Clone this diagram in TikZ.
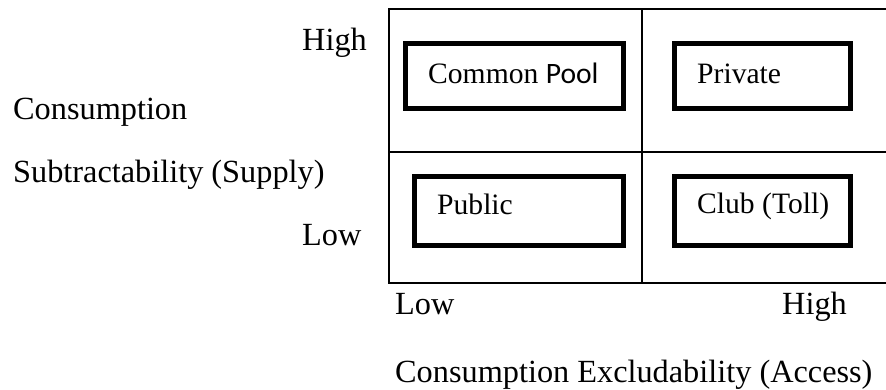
\documentclass[tikz,border=0pt]{standalone}
\usepackage{fontspec}
\setmainfont{Liberation Serif}
\newfontfamily\calibrifont{Carlito}
\begin{document}
\begin{tikzpicture}[x=1pt,y=-1pt,
  axislbl/.style={font=\fontsize{32.3}{37}\selectfont, inner sep=0pt, anchor=base west},
  boxlbl/.style={font=\fontsize{29.6}{34}\selectfont, inner sep=0pt, anchor=base west},
  goodbox/.style={draw, line width=5pt, inner sep=0pt},
  gridline/.style={line width=1.2pt}]
\useasboundingbox (0,0) rectangle (886,389);

% 2x2 grid
\coordinate (gTL) at (389,9);
\coordinate (gBL) at (389,283);
\coordinate (gTR) at (886,9);
\coordinate (gBR) at (886,283);
\coordinate (gMT) at (642,9);
\coordinate (gMB) at (642,283);
\coordinate (gML) at (389,152);
\coordinate (gMR) at (886,152);
\draw[gridline] (gTR) -- (gTL) -- (gBL) -- (gBR);
\draw[gridline] (gMT) -- (gMB);
\draw[gridline] (gML) -- (gMR);

% goods boxes
\node[goodbox, minimum width=218pt, minimum height=65pt] (commonpool) at (514.5,76) {};
\node[goodbox, minimum width=176pt, minimum height=65pt] (private) at (762.5,76) {};
\node[goodbox, minimum width=209pt, minimum height=69pt] (public) at (519,211) {};
\node[goodbox, minimum width=176pt, minimum height=69pt] (club) at (762.5,211) {};

\node[boxlbl] (commonpoolt) at (428,83) {Common {\calibrifont Pool}};
\node[boxlbl] (privatet) at (697,83) {Private};
\node[boxlbl] (publict) at (437,214) {Public};
\node[boxlbl] (clubt) at (697,213) {Club (Toll)};

% vertical axis labels
\node[axislbl] (yhigh) at (302,50) {High};
\node[axislbl] (ylab1) at (13,119) {Consumption};
\node[axislbl] (ylab2) at (13,182) {Subtractability (Supply)};
\node[axislbl] (ylow) at (302,245) {Low};

% horizontal axis labels
\node[axislbl] (xlow) at (395,314) {Low};
\node[axislbl] (xhigh) at (782,314) {High};
\node[axislbl] (xlab) at (395,382) {Consumption Excludability (Access)};
\end{tikzpicture}
\end{document}
